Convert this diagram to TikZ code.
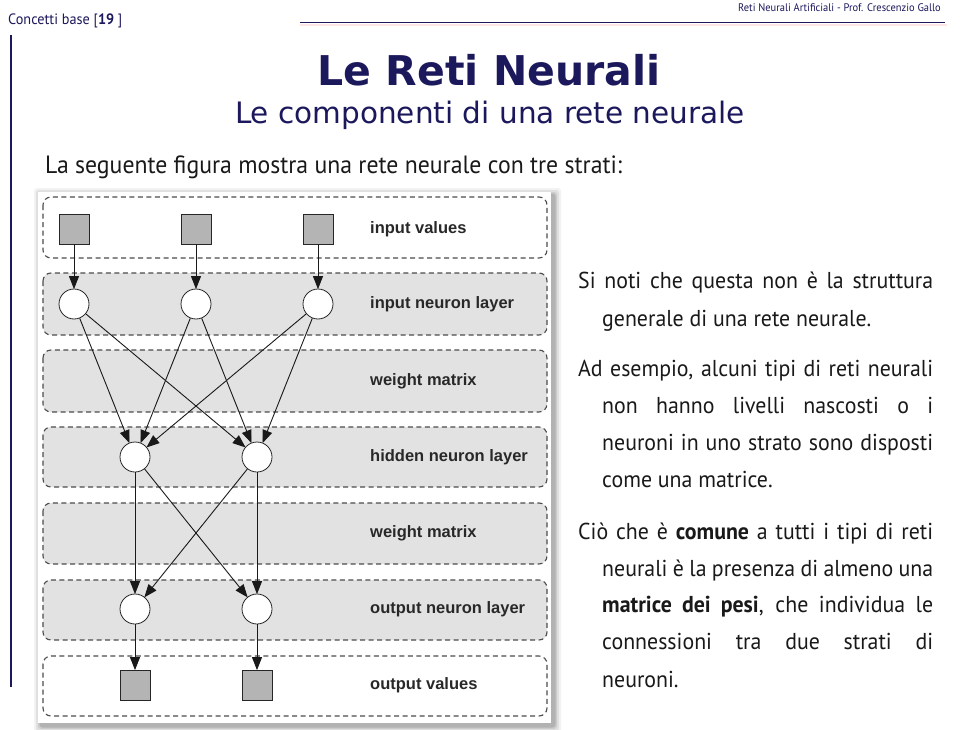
\documentclass[tikz,border=0pt]{standalone}
\usepackage{fontspec}
\setmainfont{PT Sans}
\newfontfamily\bodyf[FakeStretch=0.95]{PT Sans}
\newfontfamily\titlef{DejaVu Sans}
\newfontfamily\labf{Liberation Sans}
\usetikzlibrary{arrows.meta}
\definecolor{navy}{RGB}{28,24,92}
\definecolor{layergray}{RGB}{226,226,226}
\definecolor{sqgray}{RGB}{180,180,180}
\definecolor{labgray}{RGB}{40,40,40}
\tikzset{
  layerbox/.style={draw=black!70,line width=1.1pt,dash pattern=on 5pt off 3.5pt,rounded corners=8pt},
  sqnode/.style={draw=black!85,fill=sqgray,line width=0.8pt,minimum size=30pt,inner sep=0pt},
  neuron/.style={draw=black!85,fill=white,line width=0.8pt,circle,minimum size=30pt,inner sep=0pt},
  lab/.style={anchor=west,font=\labf\bfseries\fontsize{16.5}{18}\selectfont,text=labgray,inner sep=0pt},
  arr/.style={draw=black!90,line width=0.9pt,-{Triangle[length=13pt,width=10pt]},shorten >=-0.5pt},
  bline/.style={anchor=base west,inner sep=0pt,font=\bodyf\fontsize{23}{26}\selectfont,text=black!90},
}
\begin{document}
\begin{tikzpicture}[x=1pt,y=-1pt]
\useasboundingbox (0,0) rectangle (960,730);
\fill[white] (0,0) rectangle (960,730);
% header
\node[anchor=base west,inner sep=0pt,font=\bodyf\fontsize{15}{17}\selectfont,text=navy] (hl) at (8,25) {Concetti base [\textbf{19} ]};
\node[anchor=base east,inner sep=0pt,font=\bodyf\fontsize{11}{13}\selectfont,text=navy] (hr) at (941,12) {Reti Neurali Artificiali - Prof. Crescenzio Gallo};
\draw[red!10,line width=2pt] (300,25) -- (947,25);
\draw[navy,line width=1.3pt] (300,22.5) -- (945,22.5);
\draw[navy,line width=1.2pt] (11,35) -- (11,687);
% titles
\node[anchor=base,inner sep=0pt,font=\titlef\bfseries\fontsize{41}{44}\selectfont,text=navy] (t1) at (489,86) {Le Reti Neurali};
\node[anchor=base,inner sep=0pt,font=\titlef\fontsize{29.5}{32}\selectfont,text=navy] (t2) at (490,124) {Le componenti di una rete neurale};
\node[anchor=base west,inner sep=0pt,font=\bodyf\fontsize{25}{28}\selectfont,text=black!90] (intro) at (45,174) {La seguente figura mostra una rete neurale con tre strati:};
% figure shadow and background
\foreach \d/\o in {7/0.05,5/0.07,3/0.09,1.5/0.12}{
  \fill[black,opacity=\o,rounded corners=3pt] (38-\d+3,192-\d+3) rectangle (551+\d+3,723+\d+3);
}
\fill[white] (38,192) rectangle (551,723);
% layers
\draw[layerbox,fill=white] (43,197) rectangle (547,258);
\draw[layerbox,fill=layergray] (43,273) rectangle (547,335);
\draw[layerbox,fill=layergray] (43,350) rectangle (547,412);
\draw[layerbox,fill=layergray] (43,427) rectangle (547,487);
\draw[layerbox,fill=layergray] (43,503) rectangle (547,564);
\draw[layerbox,fill=layergray] (43,580) rectangle (547,640);
\draw[layerbox,fill=white] (43,656) rectangle (547,716);
% labels
\node[lab] (la1) at (370,229) {input values};
\node[lab] (la2) at (370,304) {input neuron layer};
\node[lab] (la3) at (370,381) {weight matrix};
\node[lab] (la4) at (370,457) {hidden neuron layer};
\node[lab] (la5) at (370,533) {weight matrix};
\node[lab] (la6) at (370,609) {output neuron layer};
\node[lab] (la7) at (370,685) {output values};
% nodes
\node[sqnode] (i1) at (74,229) {};
\node[sqnode] (i2) at (196,229) {};
\node[sqnode] (i3) at (318,229) {};
\node[neuron] (n1) at (74,304) {};
\node[neuron] (n2) at (196,304) {};
\node[neuron] (n3) at (318,304) {};
\node[neuron] (h1) at (135,457) {};
\node[neuron] (h2) at (257,457) {};
\node[neuron] (o1) at (135,609) {};
\node[neuron] (o2) at (257,609) {};
\node[sqnode] (v1) at (135,685) {};
\node[sqnode] (v2) at (257,685) {};
% connectors
\draw[arr] (i1) -- (n1);
\draw[arr] (i2) -- (n2);
\draw[arr] (i3) -- (n3);
\foreach \a in {n1,n2,n3}{
  \draw[arr] (\a) -- (h1);
  \draw[arr] (\a) -- (h2);
}
\foreach \a in {h1,h2}{
  \draw[arr] (\a) -- (o1);
  \draw[arr] (\a) -- (o2);
}
\draw[arr] (o1) -- (v1);
\draw[arr] (o2) -- (v2);
% right text
\node[bline] (p1a) at (578,288) {\makebox[355pt][s]{Si noti che questa non è la struttura}};
\node[bline] (p1b) at (602,326) {generale di una rete neurale.};
\node[bline] (p2a) at (578,376) {\makebox[355pt][s]{Ad esempio, alcuni tipi di reti neurali}};
\node[bline] (p2b) at (602,413) {\makebox[331pt][s]{non hanno livelli nascosti o i}};
\node[bline] (p2c) at (602,450) {\makebox[331pt][s]{neuroni in uno strato sono disposti}};
\node[bline] (p2d) at (602,487) {come una matrice.};
\node[bline] (p3a) at (578,539) {\makebox[355pt][s]{Ciò che è \textbf{comune} a tutti i tipi di reti}};
\node[bline] (p3b) at (602,576) {\makebox[331pt][s]{neurali è la presenza di almeno una}};
\node[bline] (p3c) at (602,612) {\makebox[331pt][s]{\textbf{matrice dei pesi}, che individua le}};
\node[bline] (p3d) at (602,649) {\makebox[331pt][s]{connessioni tra due strati di}};
\node[bline] (p3e) at (602,687) {neuroni.};
\end{tikzpicture}
\end{document}
